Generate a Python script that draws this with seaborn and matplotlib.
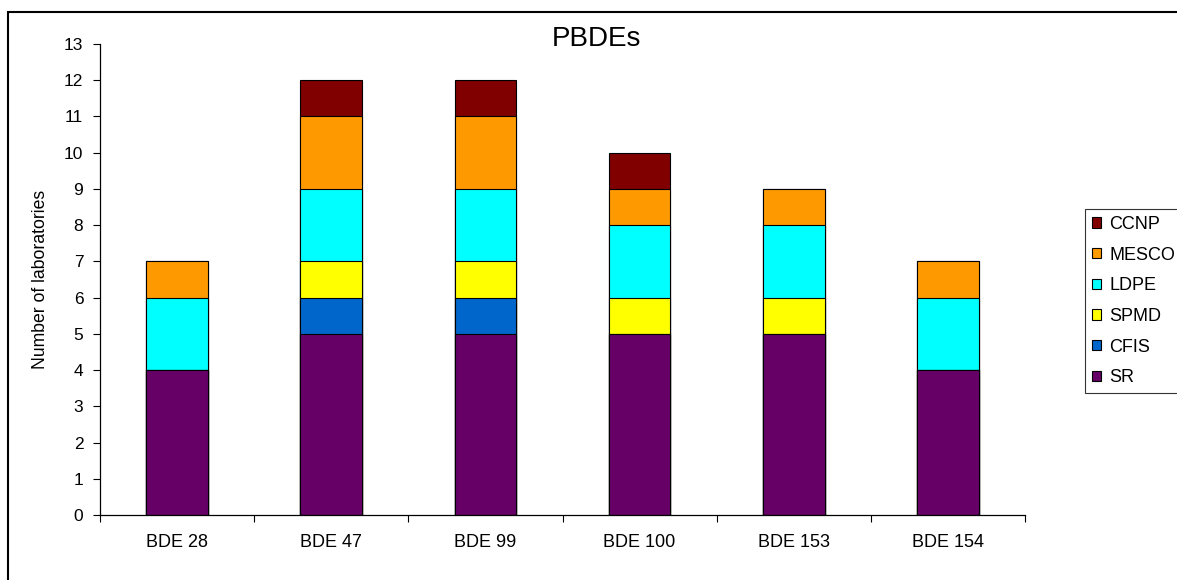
import matplotlib
matplotlib.use("Agg")
import matplotlib.pyplot as plt
import seaborn as sns
import pandas as pd
import numpy as np
from matplotlib.patches import Rectangle, Patch

categories = ["BDE 28", "BDE 47", "BDE 99", "BDE 100", "BDE 153", "BDE 154"]
SR = [4, 5, 5, 5, 5, 4]
CFIS = [0, 1, 1, 0, 0, 0]
SPMD = [0, 1, 1, 1, 1, 0]
LDPE = [2, 2, 2, 2, 2, 2]
MESCO = [1, 2, 2, 1, 1, 1]
CCNP = [0, 1, 1, 1, 0, 0]

series_names = ["SR", "CFIS", "SPMD", "LDPE", "MESCO", "CCNP"]
series_vals = [SR, CFIS, SPMD, LDPE, MESCO, CCNP]
colors = {"SR": "#660066", "CFIS": "#0066CC", "SPMD": "#FFFF00",
          "LDPE": "#00FFFF", "MESCO": "#FF9900", "CCNP": "#800000"}

sns.set_style("ticks")
plt.rcParams['font.family'] = ['Liberation Sans', 'DejaVu Sans']
plt.rcParams['text.color'] = 'black'
plt.rcParams['axes.labelcolor'] = 'black'
plt.rcParams['xtick.color'] = 'black'
plt.rcParams['ytick.color'] = 'black'

fig = plt.figure(figsize=(11.77, 5.8), dpi=100)
ax = fig.add_axes([100/1177, 1 - 515/580, 925/1177, 471/580])

cum = np.cumsum(np.array(series_vals), axis=0)
# draw from top layer down so lower segments overlay
for i in range(len(series_names) - 1, -1, -1):
    df = pd.DataFrame({"cat": categories, "val": cum[i]})
    sns.barplot(data=df, x="cat", y="val", color=colors[series_names[i]],
                saturation=1, width=0.4, edgecolor="black", linewidth=0.8,
                ax=ax, order=categories)

ax.set_xlim(-0.5, 5.5)
ax.set_ylim(0, 13)
ax.set_yticks(range(0, 14))
ax.set_xticks(np.arange(len(categories)))
ax.set_xticklabels(categories, fontsize=13)
ax.tick_params(axis='x', length=0, pad=14)
ax.tick_params(axis='y', labelsize=12.5, length=5, width=0.8, direction='out', pad=7)
ax.set_xticks(np.arange(-0.5, 6.0, 1.0), minor=True)
ax.tick_params(axis='x', which='minor', length=5, width=0.8, direction='out')
ax.set_xlabel("")
ax.set_ylabel("Number of laboratories", fontsize=12.7, labelpad=11)
for s in ["top", "right"]:
    ax.spines[s].set_visible(False)
for s in ["left", "bottom"]:
    ax.spines[s].set_linewidth(0.9)
    ax.spines[s].set_color("black")

fig.text(596/1177, 1 - 39/580, "PBDEs", ha="center", va="center", fontsize=20)

handles = [Patch(facecolor=colors[n], edgecolor="black", linewidth=0.8, label=n)
           for n in reversed(series_names)]
leg = fig.legend(handles=handles, loc="upper left",
                 bbox_to_anchor=(1085/1177, 1 - 209/580),
                 frameon=True, fancybox=False, edgecolor="black",
                 fontsize=13, handlelength=0.5, handleheight=0.5,
                 handletextpad=0.45, labelspacing=0.76, borderpad=0.38,
                 borderaxespad=0)
leg.get_frame().set_linewidth(0.8)

fig.patches.append(Rectangle((8/1177, -0.1), 1.2, 1 - 12/580 + 0.1,
                             transform=fig.transFigure, fill=False,
                             edgecolor="black", linewidth=1.5))

fig.savefig("out.png", dpi=100)
